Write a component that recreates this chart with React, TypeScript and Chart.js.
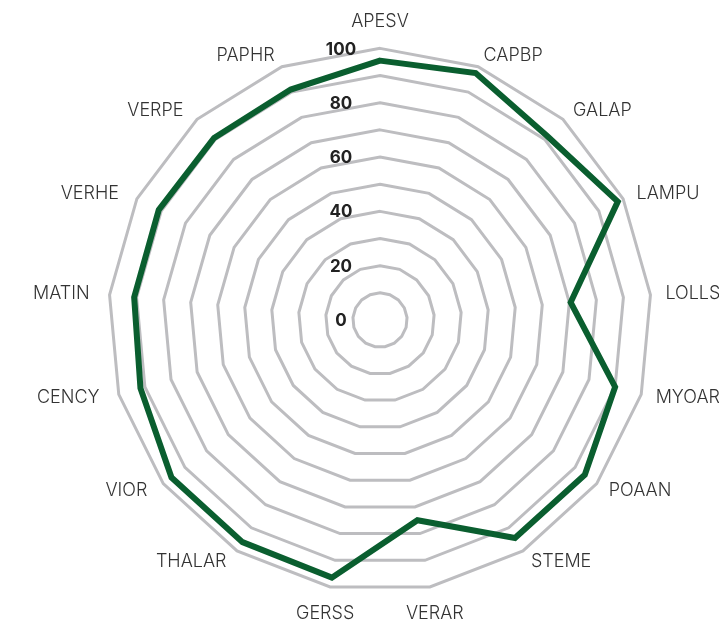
import React, { useEffect, useRef } from "react";
import { Chart, registerables } from "chart.js";

Chart.register(...registerables);

const categories = [
  "APESV", "CAPBP", "GALAP", "LAMPU", "LOLLS", "MYOAR", "POAAN", "STEME",
  "VERAR", "GERSS", "THALAR", "VIOR", "CENCY", "MATIN", "VERHE", "VERPE", "PAPHR",
];
const values = [95.5, 97.5, 91.5, 97.8, 70.5, 90, 94.5, 94.4, 75, 96.5, 96.2, 96.2, 91.7, 90.9, 91, 90.7, 91];
const tickValues = [0, 20, 40, 60, 80, 100];

const FONT_FAMILY = "Inter, 'Noto Sans', sans-serif";

const labelPlugin = {
  id: "labelPlugin",
  afterDatasetsDraw(chart: any) {
    const scale = chart.scales.r;
    const ctx = chart.ctx;
    ctx.save();
    // tick labels, shifted left of the vertical axis
    ctx.font = `bold 17px ${FONT_FAMILY}`;
    ctx.fillStyle = "#222222";
    ctx.textAlign = "center";
    ctx.textBaseline = "middle";
    tickValues.forEach((v) => {
      const d = scale.getDistanceFromCenterForValue(v);
      ctx.fillText(String(v), scale.xCenter - 39, scale.yCenter - d + 1);
    });
    // category labels
    ctx.font = `300 18px ${FONT_FAMILY}`;
    ctx.fillStyle = "#333333";
    const n = categories.length;
    categories.forEach((name, i) => {
      const deg = (360 * i) / n;
      const nearVertical = deg < 15 || deg > 345 || Math.abs(deg - 180) < 15;
      if (nearVertical) {
        const p = scale.getPointPosition(i, scale.drawingArea + 27);
        ctx.textAlign = "center";
        ctx.fillText(name, p.x, p.y);
      } else {
        const right = deg < 180;
        const px = scale.getPointPosition(i, scale.drawingArea + (right ? 15 : 20)).x;
        const py = scale.getPointPosition(i, scale.drawingArea + 12).y;
        ctx.textAlign = right ? "left" : "right";
        ctx.fillText(name, px, py);
      }
    });
    ctx.restore();
  },
};

export default function App() {
  const ref = useRef<HTMLCanvasElement | null>(null);
  useEffect(() => {
    if (!ref.current) return;
    const chart = new Chart(ref.current, {
      type: "radar",
      data: {
        labels: categories,
        datasets: [
          {
            data: values,
            borderColor: "#0a5e2f",
            borderWidth: 6,
            fill: false,
            pointRadius: 0,
            pointHoverRadius: 0,
            borderJoinStyle: "miter",
          } as any,
        ],
      },
      options: {
        animation: false,
        responsive: true,
        maintainAspectRatio: false,
        layout: { padding: 0 },
        plugins: { legend: { display: false }, tooltip: { enabled: false } },
        scales: {
          r: {
            min: 0,
            max: 100,
            beginAtZero: true,
            ticks: { stepSize: 10, display: false },
            grid: { color: "#bdbdc0", lineWidth: 3, circular: false },
            angleLines: { display: false },
            pointLabels: {
              color: "rgba(0,0,0,0)",
              padding: 17,
              font: { family: FONT_FAMILY, size: 17, weight: 300 as any },
            },
          },
        },
      },
      plugins: [labelPlugin],
    });
    return () => chart.destroy();
  }, []);
  return (
    <div style={{ position: "absolute", left: 0, top: 0, width: 719, height: 620, overflow: "hidden" }}>
      <div style={{ position: "absolute", left: 10, top: 9, width: 740, height: 618 }}>
        <canvas ref={ref} />
      </div>
    </div>
  );
}
